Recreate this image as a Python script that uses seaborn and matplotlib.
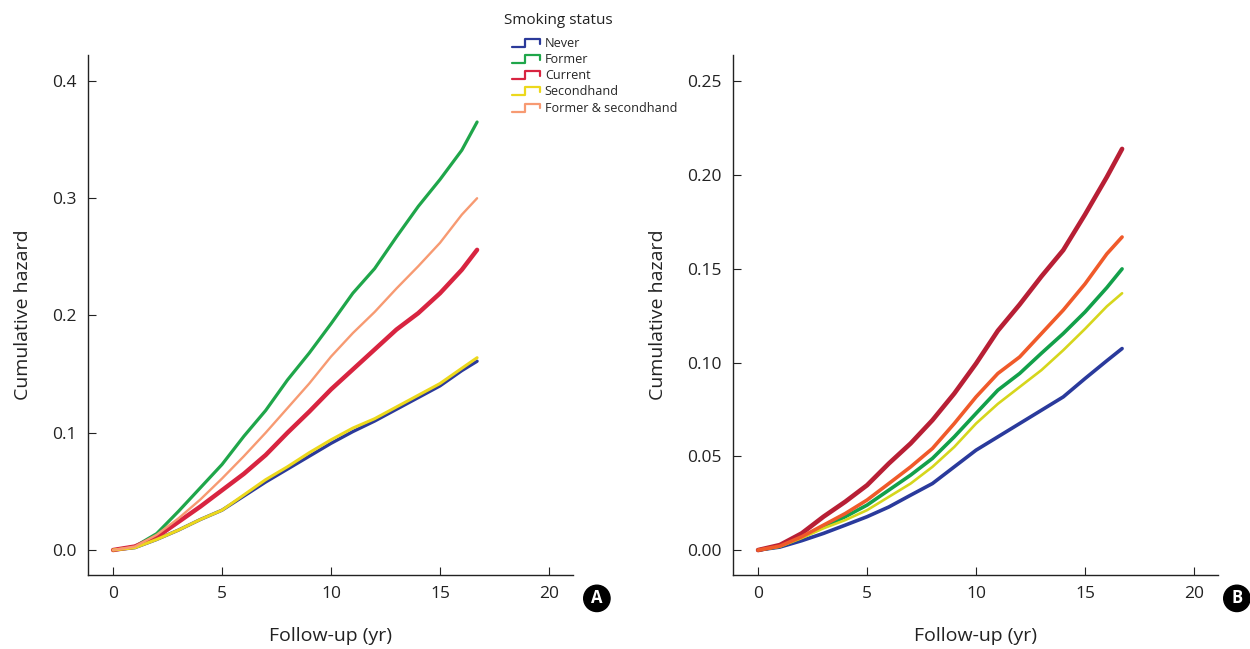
import numpy as np
import pandas as pd
import seaborn as sns
import matplotlib.pyplot as plt
from matplotlib.lines import Line2D
from matplotlib.legend_handler import HandlerBase

# follow-up time points (yr)
years = [0, 1, 2, 3, 4, 5, 6, 7, 8, 9, 10, 11, 12, 13, 14, 15, 16, 16.7]
groups = ["Never", "Former", "Current", "Secondhand", "Former & secondhand"]

# panel A cumulative hazard
a_never = [0, 0.002, 0.009, 0.017, 0.026, 0.034, 0.046, 0.058, 0.069, 0.080,
           0.091, 0.101, 0.110, 0.120, 0.130, 0.140, 0.153, 0.161]
a_former = [0, 0.003, 0.014, 0.033, 0.053, 0.073, 0.097, 0.119, 0.145, 0.168,
            0.193, 0.219, 0.240, 0.267, 0.293, 0.316, 0.341, 0.365]
a_current = [0, 0.003, 0.011, 0.024, 0.037, 0.051, 0.065, 0.081, 0.100, 0.118,
             0.137, 0.154, 0.171, 0.188, 0.202, 0.219, 0.239, 0.256]
a_second = [0, 0.002, 0.009, 0.017, 0.026, 0.034, 0.047, 0.060, 0.071, 0.083,
            0.094, 0.104, 0.112, 0.122, 0.132, 0.142, 0.155, 0.164]
a_former_second = [0, 0.003, 0.013, 0.027, 0.043, 0.061, 0.080, 0.100, 0.121,
                   0.142, 0.165, 0.185, 0.203, 0.223, 0.242, 0.262, 0.286, 0.300]

# panel B cumulative hazard
b_never = [0, 0.0016, 0.005, 0.0089, 0.0133, 0.0178, 0.023, 0.0293, 0.0355,
           0.0444, 0.0533, 0.0604, 0.0675, 0.0746, 0.0817, 0.0915, 0.101, 0.1075]
b_former = [0, 0.002, 0.0068, 0.0124, 0.0178, 0.024, 0.032, 0.040, 0.0489,
            0.0604, 0.0729, 0.0853, 0.0942, 0.105, 0.1155, 0.127, 0.140, 0.150]
b_current = [0, 0.0027, 0.0089, 0.0178, 0.0258, 0.0346, 0.0462, 0.0569, 0.0693,
             0.0835, 0.0995, 0.117, 0.131, 0.146, 0.160, 0.179, 0.199, 0.214]
b_second = [0, 0.0019, 0.0064, 0.0116, 0.016, 0.0213, 0.0284, 0.0355, 0.0444,
            0.055, 0.0675, 0.078, 0.087, 0.096, 0.1066, 0.118, 0.130, 0.137]
b_former_second = [0, 0.0021, 0.0071, 0.0133, 0.0195, 0.0267, 0.0355, 0.0444,
                   0.0542, 0.0675, 0.0817, 0.0942, 0.103, 0.1155, 0.128, 0.142,
                   0.158, 0.167]

colors_a = ["#2b3a9a", "#1fa64a", "#d82440", "#ecd81c", "#f79a72"]
colors_b = ["#2a3a9c", "#12a04a", "#b81f35", "#d6d61c", "#f05a2a"]
widths_a = [2.4, 2.3, 3.2, 2.2, 1.7]
widths_b = [2.6, 2.6, 3.3, 1.9, 2.6]


def make_df(series):
    rows = []
    for g, vals in zip(groups, series):
        for t, v in zip(years, vals):
            rows.append({"year": t, "hazard": v, "status": g})
    return pd.DataFrame(rows)


df_a = make_df([a_never, a_former, a_current, a_second, a_former_second])
df_b = make_df([b_never, b_former, b_current, b_second, b_former_second])

sns.set_theme(style="ticks")
plt.rcParams["font.family"] = ["Open Sans", "DejaVu Sans"]

fig = plt.figure(figsize=(12.5, 6.49), dpi=100)
ax_a = fig.add_axes([0.0704, 0.114, 0.388, 0.801])
ax_b = fig.add_axes([0.5864, 0.114, 0.388, 0.801])


def draw(ax, df, colors, widths, ylim, yticks, ylabels):
    for g, c, w in zip(groups, colors, widths):
        sns.lineplot(data=df[df["status"] == g], x="year", y="hazard",
                     color=c, linewidth=w, ax=ax, legend=False)
    ax.set_xlim(-1.15, 21.1)
    ax.set_ylim(*ylim)
    ax.set_xticks([0, 5, 10, 15, 20])
    ax.set_yticks(yticks)
    ax.set_yticklabels(ylabels)
    ax.tick_params(direction="in", length=6, width=0.8, labelsize=12.5,
                   colors="#222222", pad=8)
    ax.set_xlabel("Follow-up (yr)", fontsize=14, labelpad=18, color="#222222")
    ax.set_ylabel("Cumulative hazard", fontsize=14, labelpad=15, color="#222222")
    for s in ["top", "right"]:
        ax.spines[s].set_visible(False)
    for s in ["left", "bottom"]:
        ax.spines[s].set_linewidth(1.0)
        ax.spines[s].set_color("#222222")


draw(ax_a, df_a, colors_a, widths_a, (-0.0213, 0.422),
     [0, 0.1, 0.2, 0.3, 0.4], ["0.0", "0.1", "0.2", "0.3", "0.4"])
draw(ax_b, df_b, colors_b, widths_b, (-0.0133, 0.264),
     [0, 0.05, 0.10, 0.15, 0.20, 0.25],
     ["0.00", "0.05", "0.10", "0.15", "0.20", "0.25"])


class StepHandler(HandlerBase):
    def create_artists(self, legend, orig_handle, xdescent, ydescent,
                       width, height, fontsize, trans):
        x0, x1 = -xdescent, -xdescent + width
        xs = [x0, x0 + width * 0.45, x0 + width * 0.45, x1, x1]
        ys = [0, 0, height, height, height * 0.4]
        ln = Line2D(xs, ys, color=orig_handle.get_color(), linewidth=1.6,
                    transform=trans)
        return [ln]


fig.text(0.4464, 1 - 20 / 649, "Smoking status", ha="center", va="center",
         fontsize=11, color="#222222")
handles = [Line2D([0], [1], color=c) for c in colors_a]
leg = fig.legend(handles, groups, loc="upper left",
                 bbox_to_anchor=(0.4096, 0.943), frameon=False, fontsize=9.1,
                 handler_map={Line2D: StepHandler()},
                 handlelength=2.2, handleheight=0.6, handletextpad=0.4,
                 labelspacing=0.25, borderpad=0, borderaxespad=0)

for x, lab in [(0.4775, "A"), (0.9895, "B")]:
    fig.text(x, 0.078, lab, ha="center", va="center", color="white",
             fontsize=12, fontweight="bold",
             bbox=dict(boxstyle="circle,pad=0.25", fc="black", ec="black"))

fig.savefig("out.png", dpi=100)
